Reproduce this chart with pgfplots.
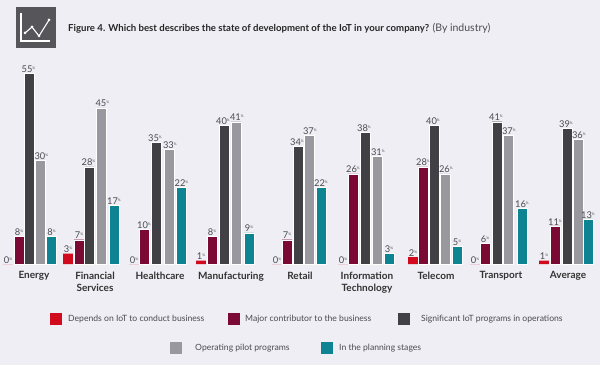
\documentclass[border=0pt]{standalone}
\usepackage{fontspec}
\setmainfont{Lato}
\usepackage{pgfplots}
\pgfplotsset{compat=1.18}
\definecolor{bgc}{HTML}{EEEEF4}
\definecolor{cred}{HTML}{D20A1E}
\definecolor{cmar}{HTML}{7A0A33}
\definecolor{cdark}{HTML}{404045}
\definecolor{cgrey}{HTML}{98989E}
\definecolor{cteal}{HTML}{0E8493}
\definecolor{ctxt}{HTML}{4A4A50}
\definecolor{cicon}{HTML}{55555A}
\newcommand{\pct}{\raisebox{3pt}{\fontsize{3.5}{4}\selectfont\%}}
\begin{document}
\begin{tikzpicture}[x=1pt,y=1pt]
\path[use as bounding box,fill=bgc] (0,0) rectangle (600,365);
% icon
\fill[cicon] (16,317) rectangle (56,358);
\draw[white,line width=1.2pt] (21,352) -- (21,324) -- (50,324);
\draw[white,line width=1.1pt] (25,332) -- (32,338) -- (39,329) -- (49,345);
\foreach \p in {(25,332),(32,338),(39,329),(49,345)} \fill[white] \p circle (1.5);
% title
\node[anchor=west,inner sep=0,text=black!85,font=\fontsize{9.6}{11}\selectfont] at (68,336.5)
 {\textbf{Figure 4. Which best describes the state of development of the IoT in your company?} \textcolor{ctxt}{\fontsize{10.5}{11}\selectfont(By industry)}};
\begin{axis}[
  at={(0pt,101pt)},anchor=south west,
  scale only axis,width=600pt,height=264pt,
  xmin=0,xmax=600,ymin=0,ymax=76.08,
  clip=false,
  axis line style={draw=none},
  major tick length=0pt,
  ytick=\empty,
  xtick={34,95,160,231,300,367,436,501,568},
  xticklabels={Energy,{Financial\\Services},Healthcare,Manufacturing,Retail,{Information\\Technology},Telecom,Transport,Average},
  xticklabel style={align=center,font=\fontsize{10}{12}\selectfont\bfseries,text=black!80,yshift=-6.5pt,inner sep=1pt},
  ybar,
  bar shift=0pt,
  bar width=9.7,
  nodes near coords={\pgfmathprintnumber{\pgfplotspointmeta}\pct},
  /pgf/number format/assume math mode=true,
  every node near coord/.append style={font=\fontsize{9.3}{10}\selectfont,text=ctxt,inner sep=0pt,yshift=0.6pt},
]
\addplot[fill=cred,draw=none] coordinates {(8,0) (68,3) (134,0) (201,1) (277,0) (343,0) (413,2) (475,0) (544,1)};
\addplot[fill=cmar,draw=white,line width=0.4pt] coordinates {(19,8) (79,7) (144,10) (212,8) (287,7) (353,26) (423,28) (485,6) (555,11)};
\addplot[fill=cdark,draw=white,line width=0.4pt,every node near coord/.append style={xshift=-1pt}] coordinates {(29.5,55) (89.5,28) (156,35) (224,40) (298,34) (365,38) (434,40) (497,41) (567,39)};
\addplot[fill=cgrey,draw=white,line width=0.4pt,every node near coord/.append style={xshift=0.8pt}] coordinates {(40.5,30) (101.5,45) (169,33) (236,41) (309,37) (377,31) (445,26) (508,37) (578,36)};
\addplot[fill=cteal,draw=white,line width=0.4pt] coordinates {(51.5,8) (114,17) (181.5,22) (249,9) (321,22) (389,3) (457,5) (522,16) (588,13)};
\end{axis}
% legend
\def\lg#1#2#3#4#5{\fill[#1] (#2,#3-6) rectangle (#2+12,#3+6);
  \node[anchor=west,inner sep=0,text=ctxt,font=\fontsize{8.6}{10}\selectfont] at (#4,#3) {#5};}
\lg{cred}{50}{46}{68}{Depends on IoT to conduct business}
\lg{cmar}{228}{46}{245}{Major contributor to the business}
\lg{cdark}{398}{46}{421}{Significant IoT programs in operations}
\lg{cgrey}{170}{17}{195}{Operating pilot programs}
\lg{cteal}{321}{17}{339}{In the planning stages}
\end{tikzpicture}
\end{document}
